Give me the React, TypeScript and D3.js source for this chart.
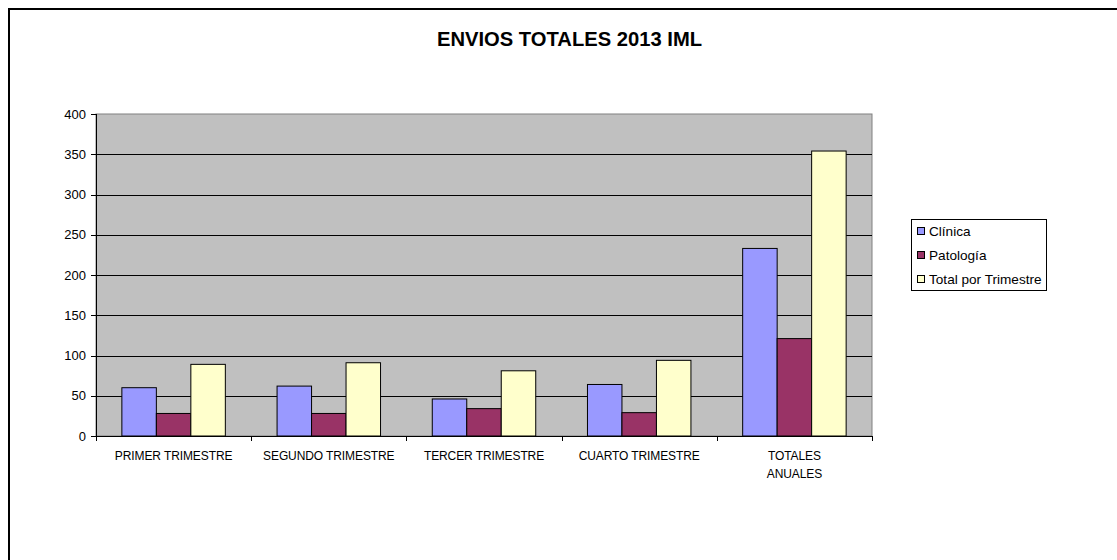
import React from "react";
import * as d3 from "d3";

const categories = [
  "PRIMER TRIMESTRE",
  "SEGUNDO TRIMESTRE",
  "TERCER TRIMESTRE",
  "CUARTO TRIMESTRE",
  "TOTALES ANUALES",
];
const seriesNames = ["Clínica", "Patología", "Total por Trimestre"];
const clinica = [60, 62, 46, 64, 233];
const patologia = [28, 28, 34, 29, 121];
const totalTrimestre = [89, 91, 81, 94, 354];
const yTicks = [0, 50, 100, 150, 200, 250, 300, 350, 400];

const colors = ["#9999FF", "#993366", "#FFFFCC"];
const font = "Liberation Sans, Arial, sans-serif";

const App: React.FC = () => {
  const width = 1117;
  const height = 560;
  const plot = { left: 96, right: 872, top: 114, bottom: 436 };
  const series = [clinica, patologia, totalTrimestre];

  const x = d3
    .scaleBand<string>()
    .domain(categories)
    .range([plot.left, plot.right])
    .paddingInner(0)
    .paddingOuter(0);

  // gap width 150% like the spreadsheet chart
  const x1 = d3
    .scaleBand<number>()
    .domain([0, 1, 2])
    .range([0, x.bandwidth()])
    .paddingInner(0)
    .paddingOuter(0.75);

  const y = d3.scaleLinear().domain([0, 400]).range([plot.bottom, plot.top]);

  const splitLabel = (s: string) => (s === "TOTALES ANUALES" ? ["TOTALES", "ANUALES"] : [s]);

  return (
    <svg
      width={width}
      height={height}
      style={{ position: "absolute", left: 0, top: 0, display: "block" }}
      fontFamily={font}
    >
      <rect x={0} y={0} width={width} height={height} fill="#fff" />
      {/* outer frame */}
      <rect x={9} y={9} width={1300} height={700} fill="none" stroke="#000" strokeWidth={2} />

      <text x={569.5} y={46} textAnchor="middle" fontSize={20.2} fontWeight="bold" fill="#000">
        ENVIOS TOTALES 2013 IML
      </text>

      {/* plot area */}
      <rect
        x={plot.left}
        y={plot.top}
        width={plot.right - plot.left}
        height={plot.bottom - plot.top}
        fill="#C0C0C0"
        stroke="#808080"
        strokeWidth={1}
      />
      {yTicks.slice(1, -1).map((t) => (
        <line
          key={t}
          x1={plot.left}
          x2={plot.right}
          y1={Math.round(y(t)) + 0.5}
          y2={Math.round(y(t)) + 0.5}
          stroke="#000"
          strokeWidth={1}
        />
      ))}

      {/* bars */}
      {categories.map((c, i) => (
        <g key={c}>
          {series.map((vals, s) => (
            <rect
              key={s}
              x={(x(c) ?? 0) + (x1(s) ?? 0)}
              y={y(vals[i])}
              width={x1.bandwidth()}
              height={y(0) - y(vals[i])}
              fill={colors[s]}
              stroke="#000"
              strokeWidth={1}
            />
          ))}
        </g>
      ))}

      {/* y axis */}
      <line x1={plot.left + 0.5} x2={plot.left + 0.5} y1={plot.top} y2={plot.bottom} stroke="#000" />
      {yTicks.map((t) => (
        <g key={t}>
          <line
            x1={plot.left - 5}
            x2={plot.left}
            y1={Math.round(y(t)) + 0.5}
            y2={Math.round(y(t)) + 0.5}
            stroke="#000"
          />
          <text x={plot.left - 10} y={y(t) + 4.5} textAnchor="end" fontSize={13} fill="#000">
            {t}
          </text>
        </g>
      ))}

      {/* x axis */}
      <line x1={plot.left} x2={plot.right} y1={plot.bottom + 0.5} y2={plot.bottom + 0.5} stroke="#000" />
      {[...categories.map((c) => x(c) ?? 0), plot.right].map((px, i) => (
        <line
          key={i}
          x1={Math.round(px) + 0.5}
          x2={Math.round(px) + 0.5}
          y1={plot.bottom}
          y2={plot.bottom + 5}
          stroke="#000"
        />
      ))}
      {categories.map((c) => (
        <text
          key={c}
          x={(x(c) ?? 0) + x.bandwidth() / 2}
          y={460}
          textAnchor="middle"
          fontSize={12}
          fill="#000"
          letterSpacing={-0.1}
        >
          {splitLabel(c).map((line, j) => (
            <tspan key={j} x={(x(c) ?? 0) + x.bandwidth() / 2} dy={j === 0 ? 0 : 18}>
              {line}
            </tspan>
          ))}
        </text>
      ))}

      {/* legend */}
      <rect x={911.5} y={219.5} width={135} height={71} fill="#fff" stroke="#000" strokeWidth={1} />
      {seriesNames.map((name, i) => (
        <g key={name} transform={`translate(917, ${231 + i * 24})`}>
          <rect x={0.5} y={-3.5} width={7} height={7} fill={colors[i]} stroke="#000" />
          <text x={12} y={4.5} fontSize={13.6} fill="#000">
            {name}
          </text>
        </g>
      ))}
    </svg>
  );
};

export default App;
